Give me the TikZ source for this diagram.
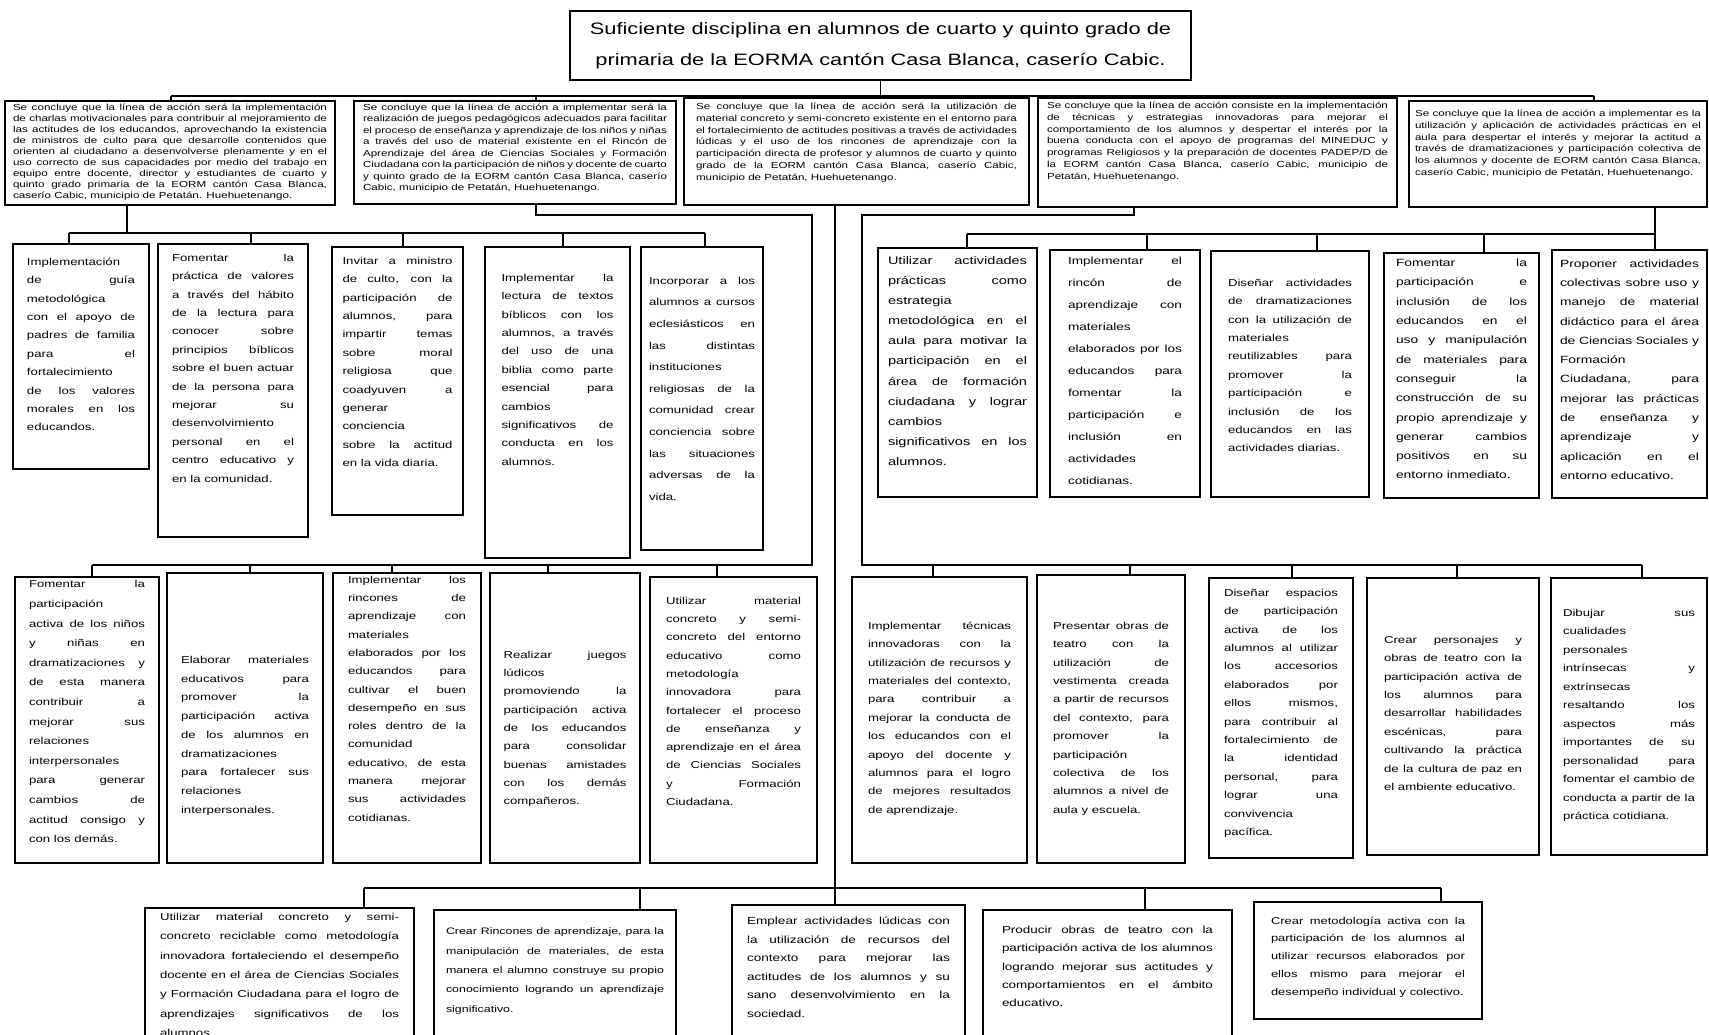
\documentclass[tikz,border=0pt]{standalone}
\usepackage{fontspec}
\setmainfont{Liberation Sans}[FakeStretch=1.32]
\usetikzlibrary{calc}
\newcommand{\F}[2]{\fontsize{#1}{#2}\selectfont\tolerance=10000 \hbadness=10000 \pretolerance=-1 \hyphenpenalty=10000 \exhyphenpenalty=10000 }
\newcommand{\BR}{\linebreak}
% name, x, y, w, h, hpad, toppad, font, text
\newcommand{\bx}[9]{%
  \node[box, minimum width=#4pt, minimum height=#5pt, inner xsep=#6pt] (#1) at (#2,#3)
  {\parbox[c][#5pt][t]{\dimexpr #4pt - #6pt - #6pt\relax}{#8\vspace*{#7pt}#9}};}
\tikzset{
  box/.style={draw=black, line width=1.8pt, anchor=north west, inner ysep=0pt, outer sep=0pt, fill=white},
  conn/.style={draw=black, line width=1.1pt}
}
\begin{document}
\begin{tikzpicture}[x=1pt, y=-1pt]
\fill[white] (0,0) rectangle (1709,1034);
\useasboundingbox (0,0) rectangle (1709,1034);

% ---------- junction points ----------
\coordinate (jA) at (171,96); \coordinate (jB) at (536,96); \coordinate (jC) at (835,96);
\coordinate (jD) at (1237,96); \coordinate (jE) at (1594,96);
\coordinate (kA) at (127,233);
\coordinate (k1) at (69,233); \coordinate (k2) at (251,233); \coordinate (k3) at (403,233);
\coordinate (k4) at (563,233); \coordinate (k5) at (705,233);
\coordinate (mB) at (536,215); \coordinate (sL) at (812,215); \coordinate (sLb) at (812,565);
\coordinate (n1) at (92,565); \coordinate (n2) at (250,565); \coordinate (n3) at (392,565);
\coordinate (n4) at (548,565); \coordinate (n5) at (717,565);
\coordinate (mD) at (1134,215); \coordinate (sR) at (862,215); \coordinate (sRb) at (862,565);
\coordinate (p1) at (933,565); \coordinate (p2) at (1130,565); \coordinate (p3) at (1292,565);
\coordinate (p4) at (1457,565); \coordinate (p5) at (1642,565);
\coordinate (e1) at (967,234); \coordinate (e2) at (1147,234); \coordinate (e3) at (1317,234);
\coordinate (e4) at (1484,234); \coordinate (e5) at (1655,234);
\coordinate (q1) at (364,888); \coordinate (q2) at (640,888); \coordinate (q3) at (835,888);
\coordinate (q4) at (1145,888); \coordinate (q5) at (1441,888);

% ---------- title ----------
\node[box, anchor=center, minimum width=621pt, minimum height=69pt, align=center,
      font=\fontsize{16.5}{31}\selectfont] (title) at (880.5,45.5)
  {Suficiente disciplina en alumnos de cuarto y quinto grado de\\primaria de la EORMA cantón Casa Blanca, caserío Cabic.};

% ---------- row 1 ----------
\bx{A}{5}{101}{330}{104}{8}{3}{\F{8.8}{11}}{Se concluye que la línea de acción será la implementación \BR de charlas motivacionales para contribuir al mejoramiento de \BR las actitudes de los educandos, aprovechando la existencia \BR de ministros de culto para que desarrolle contenidos que \BR orienten al ciudadano a desenvolverse plenamente y en el \BR uso correcto de sus capacidades por medio del trabajo en \BR equipo entre docente, director y estudiantes de cuarto y \BR quinto grado primaria de la EORM cantón Casa Blanca, \BR caserío Cabic, municipio de Petatán. Huehuetenango.}
\bx{B}{354}{101}{322}{103}{9}{3}{\F{8.8}{11.5}}{Se concluye que la línea de acción a implementar será la \BR realización de juegos pedagógicos adecuados para facilitar \BR el proceso de enseñanza y aprendizaje de los niños y niñas \BR a través del uso de material existente en el Rincón de \BR Aprendizaje del área de Ciencias Sociales y Formación \BR Ciudadana con la participación de niños y docente de cuarto \BR y quinto grado de la EORM cantón Casa Blanca, caserío \BR Cabic, municipio de Petatán, Huehuetenango.}
\bx{C}{684}{98}{345}{107}{12}{5}{\F{8.8}{11.8}}{Se concluye que la línea de acción será la utilización de \BR material concreto y semi-concreto existente en el entorno para \BR el fortalecimiento de actitudes positivas a través de actividades \BR lúdicas y el uso de los rincones de aprendizaje con la \BR participación directa de profesor y alumnos de cuarto y quinto \BR grado de la EORM cantón Casa Blanca, caserío Cabic, \BR municipio de Petatán, Huehuetenango.}
\bx{D}{1038}{98}{359}{109}{9}{4}{\F{8.8}{11.8}}{Se concluye que la línea de acción consiste en la implementación \BR de técnicas y estrategias innovadoras para mejorar el \BR comportamiento de los alumnos y despertar el interés por la \BR buena conducta con el apoyo de programas del MINEDUC y \BR programas Religiosos y la preparación de docentes PADEP/D de \BR la EORM cantón Casa Blanca, caserío Cabic, municipio de \BR Petatán, Huehuetenango.}
\bx{E}{1409}{101}{298}{106}{6}{9}{\F{8.8}{11.8}}{Se concluye que la línea de acción a implementar es la \BR utilización y aplicación de actividades prácticas en el \BR aula para despertar el interés y mejorar la actitud a \BR través de dramatizaciones y participación colectiva de \BR los alumnos y docente de EORM cantón Casa Blanca, \BR caserío Cabic, municipio de Petatán, Huehuetenango.}

% ---------- row 2 left ----------
\bx{L1}{13}{244}{136}{225}{14}{14}{\F{10}{18.4}}{Implementación \BR de guía \BR metodológica \BR con el apoyo de \BR padres de familia \BR para el \BR fortalecimiento \BR de los valores \BR morales en los \BR educandos.}
\bx{L2}{158}{244}{150}{293}{14}{10}{\F{10}{18.4}}{Fomentar la \BR práctica de valores \BR a través del hábito \BR de la lectura para \BR conocer sobre \BR principios bíblicos \BR sobre el buen actuar \BR de la persona para \BR mejorar su \BR desenvolvimiento \BR personal en el \BR centro educativo y \BR en la comunidad.}
\bx{L3}{332}{247}{131}{268}{10.5}{10}{\F{10}{18.4}}{Invitar a ministro \BR de culto, con la \BR participación de \BR alumnos, para \BR impartir temas \BR sobre moral \BR religiosa que \BR coadyuven a \BR generar \BR conciencia \BR sobre la actitud \BR en la vida diaria.}
\bx{L4}{485}{247}{145}{311}{16.5}{27}{\F{10}{18.4}}{Implementar la \BR lectura de textos \BR bíblicos con los \BR alumnos, a través \BR del uso de una \BR biblia como parte \BR esencial para \BR cambios \BR significativos de \BR conducta en los \BR alumnos.}
\bx{L5}{641}{247}{122}{303}{8}{30}{\F{10}{21.6}}{Incorporar a los \BR alumnos a cursos \BR eclesiásticos en \BR las distintas \BR instituciones \BR religiosas de la \BR comunidad crear \BR conciencia sobre \BR las situaciones \BR adversas de la \BR vida.}

% ---------- row 2 right ----------
\bx{R1}{878}{248}{159}{249}{10}{8.5}{\F{11}{20.1}}{Utilizar actividades \BR prácticas como \BR estrategia \BR metodológica en el \BR aula para motivar la \BR participación en el \BR área de formación \BR ciudadana y lograr \BR cambios \BR significativos en los \BR alumnos.}
\bx{R2}{1050}{250}{150}{247}{18}{7}{\F{10.3}{22}}{Implementar el \BR rincón de \BR aprendizaje con \BR materiales \BR elaborados por los \BR educandos para \BR fomentar la \BR participación e \BR inclusión en \BR actividades \BR cotidianas.}
\bx{R3}{1211}{251}{158}{246}{17}{28}{\F{10}{18.4}}{Diseñar actividades \BR de dramatizaciones \BR con la utilización de \BR materiales \BR reutilizables para \BR promover la \BR participación e \BR inclusión de los \BR educandos en las \BR actividades diarias.}
\bx{R4}{1384}{253}{155}{245}{12}{6}{\F{10.5}{19.3}}{Fomentar la \BR participación e \BR inclusión de los \BR educandos en el \BR uso y manipulación \BR de materiales para \BR conseguir la \BR construcción de su \BR propio aprendizaje y \BR generar cambios \BR positivos en su \BR entorno inmediato.}
\bx{R5}{1552}{250}{155}{248}{8}{9.5}{\F{10.5}{19.3}}{Proponer actividades \BR colectivas sobre uso y \BR manejo de material \BR didáctico para el área \BR de Ciencias Sociales y \BR Formación \BR Ciudadana, para \BR mejorar las prácticas \BR de enseñanza y \BR aprendizaje y \BR aplicación en el \BR entorno educativo.}

% ---------- row 3 left ----------
\bx{M1}{15}{577}{144}{286}{14}{3.6}{\F{10}{19.6}}{Fomentar la \BR participación \BR activa de los niños \BR y niñas en \BR dramatizaciones y \BR de esta manera \BR contribuir a \BR mejorar sus \BR relaciones \BR interpersonales \BR para generar \BR cambios de \BR actitud consigo y \BR con los demás.}
\bx{M2}{167}{573}{156}{290}{14}{83}{\F{10}{18.75}}{Elaborar materiales \BR educativos para \BR promover la \BR participación activa \BR de los alumnos en \BR dramatizaciones \BR para fortalecer sus \BR relaciones \BR interpersonales.}
\bx{M3}{333}{573}{148}{290}{15}{3}{\F{10}{18.3}}{Implementar los \BR rincones de \BR aprendizaje con \BR materiales \BR elaborados por los \BR educandos para \BR cultivar el buen \BR desempeño en sus \BR roles dentro de la \BR comunidad \BR educativo, de esta \BR manera mejorar \BR sus actividades \BR cotidianas.}
\bx{M4}{490}{573}{150}{290}{13.5}{78}{\F{10}{18.3}}{Realizar juegos \BR lúdicos \BR promoviendo la \BR participación activa \BR de los educandos \BR para consolidar \BR buenas amistades \BR con los demás \BR compañeros.}
\bx{M5}{650}{577}{167}{286}{16}{20}{\F{10}{18.3}}{Utilizar material \BR concreto y semi- \BR concreto del entorno \BR educativo como \BR metodología \BR innovadora para \BR fortalecer el proceso \BR de enseñanza y \BR aprendizaje en el área \BR de Ciencias Sociales \BR y Formación \BR Ciudadana.}

% ---------- row 3 right ----------
\bx{N1}{852}{577}{175}{286}{16}{45}{\F{10}{18.4}}{Implementar técnicas \BR innovadoras con la \BR utilización de recursos y \BR materiales del contexto, \BR para contribuir a \BR mejorar la conducta de \BR los educandos con el \BR apoyo del docente y \BR alumnos para el logro \BR de mejores resultados \BR de aprendizaje.}
\bx{N2}{1037}{575}{148}{288}{16}{47}{\F{10}{18.4}}{Presentar obras de \BR teatro con la \BR utilización de \BR vestimenta creada \BR a partir de recursos \BR del contexto, para \BR promover la \BR participación \BR colectiva de los \BR alumnos a nivel de \BR aula y escuela.}
\bx{N3}{1209}{578}{144}{280}{15}{11}{\F{10}{18.4}}{Diseñar espacios \BR de participación \BR activa de los \BR alumnos al utilizar \BR los accesorios \BR elaborados por \BR ellos mismos, \BR para contribuir al \BR fortalecimiento de \BR la identidad \BR personal, para \BR lograr una \BR convivencia \BR pacífica.}
\bx{N4}{1367}{578}{172}{277}{17}{58}{\F{10}{18.4}}{Crear personajes y \BR obras de teatro con la \BR participación activa de \BR los alumnos para \BR desarrollar habilidades \BR escénicas, para \BR cultivando la práctica \BR de la cultura de paz en \BR el ambiente educativo.}
\bx{N5}{1551}{578}{156}{277}{12}{31}{\F{10}{18.5}}{Dibujar sus \BR cualidades \BR personales \BR intrínsecas y \BR extrínsecas \BR resaltando los \BR aspectos más \BR importantes de su \BR personalidad para \BR fomentar el cambio de \BR conducta a partir de la \BR práctica cotidiana.}

% ---------- row 4 ----------
\bx{Q1}{145}{908}{269}{140}{15}{5}{\F{10}{19.4}}{Utilizar material concreto y semi- \BR concreto reciclable como metodología \BR innovadora fortaleciendo el desempeño \BR docente en el área de Ciencias Sociales \BR y Formación Ciudadana para el logro de \BR aprendizajes significativos de los \BR alumnos.}
\bx{Q2}{434}{910}{242}{140}{12}{18}{\F{9.4}{19.3}}{Crear Rincones de aprendizaje, para la \BR manipulación de materiales, de esta \BR manera el alumno construye su propio \BR conocimiento logrando un aprendizaje \BR significativo.}
\bx{Q3}{732}{905}{233}{140}{15}{12}{\F{10.3}{18.5}}{Emplear actividades lúdicas con \BR la utilización de recursos del \BR contexto para mejorar las \BR actitudes de los alumnos y su \BR sano desenvolvimiento en la \BR sociedad.}
\bx{Q4}{983}{910}{249}{140}{19}{16}{\F{10.2}{18.3}}{Producir obras de teatro con la \BR participación activa de los alumnos \BR logrando mejorar sus actitudes y \BR comportamientos en el ámbito \BR educativo.}
\bx{Q5}{1254}{902}{228}{117}{17}{15}{\F{9.8}{17.7}}{Crear metodología activa con la \BR participación de los alumnos al \BR utilizar recursos elaborados por \BR ellos mismo para mejorar el \BR desempeño individual y colectivo.}

% ---------- connectors ----------
\draw[conn] (title.south) -- (title.south |- jA);
\draw[conn] (jA) -- (jE);
\foreach \i in {A,B,C,D,E} \draw[conn] (j\i) -- (j\i |- \i.north);

\draw[conn] (kA |- A.south) -- (kA);
\draw[conn] (k1) -- (k5);
\foreach \i in {1,...,5} \draw[conn] (k\i) -- (k\i |- L\i.north);

\draw[conn] (mB |- B.south) -- (mB) -- (sL) -- (sLb) -- (n1);
\foreach \i in {1,...,5} \draw[conn] (n\i) -- (n\i |- M\i.north);

\draw[conn] (mD |- D.south) -- (mD) -- (sR) -- (sRb) -- (p5);
\foreach \i in {1,...,5} \draw[conn] (p\i) -- (p\i |- N\i.north);

\draw[conn] (e5 |- E.south) -- (e5 |- R5.north);
\draw[conn] (e1) -- (e5);
\foreach \i in {1,...,4} \draw[conn] (e\i) -- (e\i |- R\i.north);

\draw[conn] (q3 |- C.south) -- (q3 |- Q3.north);
\draw[conn] (q1) -- (q5);
\foreach \i in {1,2,4,5} \draw[conn] (q\i) -- (q\i |- Q\i.north);
\end{tikzpicture}
\end{document}
